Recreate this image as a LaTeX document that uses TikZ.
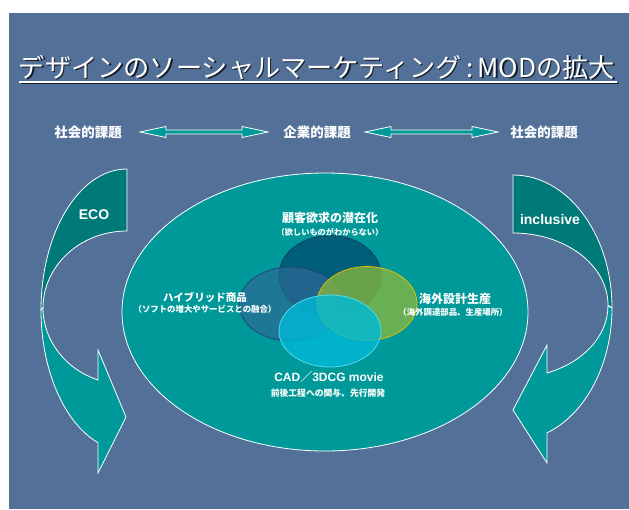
\documentclass[tikz,border=0pt]{standalone}
\usepackage{fontspec}
\setmainfont{Liberation Sans}
\newfontfamily\jp{Noto Sans CJK JP}
\usetikzlibrary{calc}
\definecolor{bgblue}{RGB}{82,112,152}
\definecolor{tealA}{RGB}{0,153,153}
\definecolor{tealB}{RGB}{0,122,120}
\definecolor{vtop}{RGB}{0,88,118}
\definecolor{vtopd}{RGB}{10,60,100}
\definecolor{vleft}{RGB}{45,105,150}
\definecolor{vleftd}{RGB}{30,70,120}
\definecolor{vright}{RGB}{140,185,60}
\definecolor{vrightd}{RGB}{230,190,0}
\definecolor{vbot}{RGB}{0,185,215}
\definecolor{vbotd}{RGB}{80,220,240}
\tikzset{
  wl/.style={draw=white, line width=0.8pt, line join=miter},
  jlbl/.style={text=white, inner sep=0pt, font=\jp\bfseries\fontsize{#1}{#1}\selectfont},
  jlbl/.default=12,
  elbl/.style={text=white, inner sep=0pt, font=\bfseries\fontsize{#1}{#1}\selectfont},
  elbl/.default=14,
}
\newcommand\dblarr[3]{%
  \draw[wl, fill=tealA] (#1,#3) -- (#1+26,#3-5.5) -- (#1+26,#3-2) -- (#2-26,#3-2) -- (#2-26,#3-5.5) -- (#2,#3)
    -- (#2-26,#3+5.5) -- (#2-26,#3+2) -- (#1+26,#3+2) -- (#1+26,#3+5.5) -- cycle;}
\newcommand\ttl{\jp デザインのソーシャルマーケティング\,:\,MODの拡大}
\begin{document}
\begin{tikzpicture}[x=1pt,y=-1pt]
\useasboundingbox (0,0) rectangle (629,509);
\fill[white] (0,0) rectangle (629,509);
\fill[bgblue] (9,13) rectangle (629,509);

% title
\node[anchor=base, inner sep=0pt, text=black, opacity=0.75] (titlesh) at (318.5,78.5) {\resizebox{596pt}{!}{\ttl}};
\node[anchor=base, inner sep=0pt, text=white] (title) at (317,77) {\resizebox{596pt}{!}{\ttl}};
\draw[black, opacity=0.75, line width=1.6pt] (20.5,83.5) -- (618.5,83.5);
\draw[white, line width=1.6pt] (19,82) -- (617,82);

% top labels
\node[jlbl=13.5] (s1) at (88,132) {社会的課題};
\node[jlbl=13.5] (k1) at (317,132) {企業的課題};
\node[jlbl=13.5] (s2) at (544,132) {社会的課題};
\dblarr{140}{268}{132}
\dblarr{365}{498}{132}

% big ellipse
\draw[wl, fill=tealA] (325,312) ellipse [x radius=203pt, y radius=139pt];

% venn
\fill[vtop, opacity=0.9] (330,275.5) ellipse [x radius=51pt, y radius=40pt];
\draw[vtopd, line width=0.8pt] (330,275.5) ellipse [x radius=51pt, y radius=40pt];
\fill[vleft, opacity=0.7] (291,304) ellipse [x radius=52pt, y radius=37pt];
\draw[vleftd, line width=0.8pt] (291,304) ellipse [x radius=52pt, y radius=37pt];
\fill[vright, opacity=0.75] (367,303.5) ellipse [x radius=50pt, y radius=37pt];
\draw[vrightd, line width=0.8pt] (367,303.5) ellipse [x radius=50pt, y radius=37pt];
\fill[vbot, opacity=0.8] (330,331) ellipse [x radius=51pt, y radius=36pt];
\draw[vbotd, line width=0.8pt] (330,331) ellipse [x radius=51pt, y radius=36pt];

% venn labels
\node[jlbl=12] (t1) at (330,218) {顧客欲求の潜在化};
\node[jlbl=8.2] (t2) at (330,232) {（欲しいものがわからない）};
\node[jlbl=10.5] (l1) at (205,297) {ハイブリッド商品};
\node[jlbl=8.4] (l2) at (205,309) {（ソフトの増大やサービスとの融合）};
\node[jlbl=12] (r1) at (455,299) {海外設計生産};
\node[jlbl=8.4] (r2) at (453,312) {（海外調達部品、生産場所）};
\node[elbl=12] (b1) at (329,377) {CAD{\jp／}3DCG movie};
\node[jlbl=8.8] (b2) at (328,393) {前後工程への関与、先行開発};

% left curved arrow
\draw[wl, fill=tealB] (127,169) arc[start angle=90, end angle=180, x radius=86pt, y radius=141pt]
  -- (43,308) arc[start angle=180, end angle=90, x radius=84pt, y radius=77pt] -- cycle;
\draw[wl, fill=tealA] (41,310) arc[start angle=180, end angle=250.3, x radius=86pt, y radius=141pt]
  -- (98,473) -- (126,417) -- (98,350) -- (98,380)
  arc[start angle=249.8, end angle=180, x radius=84pt, y radius=77pt] -- cycle;
\node[elbl=14] (eco) at (94,215) {ECO};

% right curved arrow
\draw[wl, fill=tealB] (513,175) arc[start angle=90, end angle=0, x radius=99pt, y radius=133pt]
  -- (608,305) arc[start angle=0, end angle=90, x radius=95pt, y radius=72pt] -- cycle;
\draw[wl, fill=tealA] (612,308) arc[start angle=0, end angle=-69.9, x radius=99pt, y radius=133pt]
  -- (547,463) -- (513,410) -- (547,345) -- (547,373)
  arc[start angle=-69, end angle=0, x radius=95pt, y radius=72pt] -- cycle;
\node[elbl=14] (incl) at (550,219) {inclusive};
\end{tikzpicture}
\end{document}
